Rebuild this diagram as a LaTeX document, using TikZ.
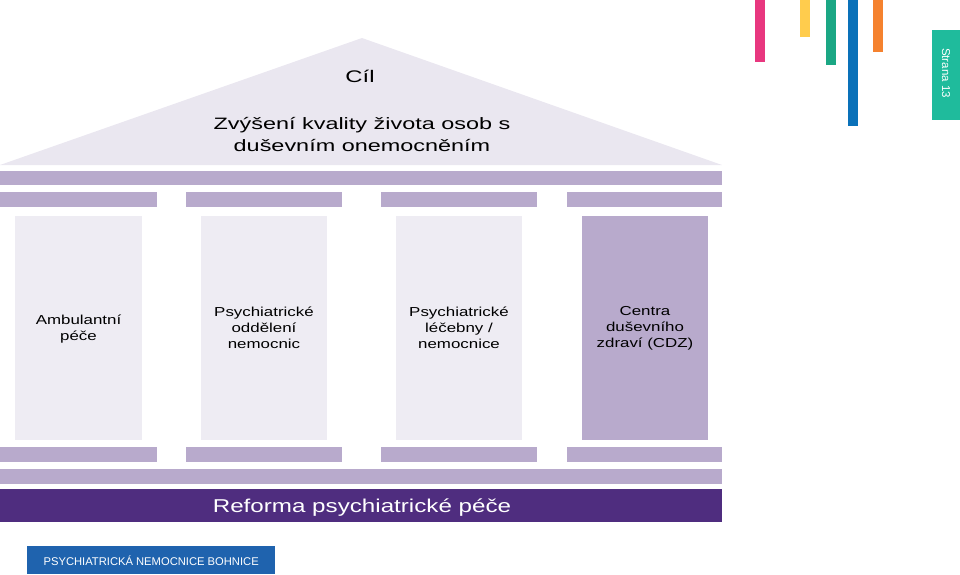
\documentclass[tikz,border=0pt]{standalone}
\usepackage{fontspec}
\setmainfont{Liberation Sans}
\newfontfamily\wide{Liberation Sans}[FakeStretch=1.3]
\newfontfamily\wider{Liberation Sans}[FakeStretch=1.42]
\definecolor{roof}{HTML}{EAE7F0}
\definecolor{colpale}{HTML}{EEECF3}
\definecolor{lav}{HTML}{B8AACC}
\definecolor{deep}{HTML}{4F2D7F}
\definecolor{bhblue}{HTML}{1F63AE}
\definecolor{tabgreen}{HTML}{1FBB9C}
\definecolor{bpink}{HTML}{E8377F}
\definecolor{byellow}{HTML}{FFCC4D}
\definecolor{bgreen}{HTML}{1BA784}
\definecolor{bblue}{HTML}{0A71B9}
\definecolor{borange}{HTML}{F5822F}
\begin{document}
\begin{tikzpicture}[x=1pt,y=-1pt,
  beam/.style={fill=lav,draw=none},
  coltext/.style={align=center,font=\wide\fontsize{13}{16}\selectfont,text=black},
  bar/.style={draw=none}]
\useasboundingbox (0,0) rectangle (960,574);
% roof
\fill[roof] (0,165) -- (362,38) -- (722,165) -- cycle;
\node[font=\wider\fontsize{16.8}{22}\selectfont] (goal) at (360,76) {Cíl};
\node[font=\wider\fontsize{16.5}{22}\selectfont,align=center] (goaltext) at (362,134) {Zvýšení kvality života osob s\\duševním onemocněním};
% top beam
\fill[beam] (0,171) rectangle (722,185);
% capitals and bases
\foreach \a/\b in {0/157,186/342,381/537,567/722}{
  \fill[beam] (\a,192) rectangle (\b,207);
  \fill[beam] (\a,447) rectangle (\b,462);
}
% columns
\fill[colpale] (15,216) rectangle (142,440);
\fill[colpale] (201,216) rectangle (327,440);
\fill[colpale] (396,216) rectangle (522,440);
\fill[lav] (582,216) rectangle (708,440);
\node[coltext] (c1) at (78.5,329) {Ambulantní\\péče};
\node[coltext] (c2) at (264,328) {Psychiatrické\\oddělení\\nemocnic};
\node[coltext] (c3) at (459,328) {Psychiatrické\\léčebny /\\nemocnice};
\node[coltext] (c4) at (645,328) {Centra\\duševního\\zdraví (CDZ)};
% bottom beam
\fill[beam] (0,469) rectangle (722,484);
\fill[deep] (0,489) rectangle (722,522);
\node[font=\wide\fontsize{18.6}{22}\selectfont,text=white] (reform) at (362,508) {Reforma psychiatrické péče};
% footer label
\node[fill=bhblue,text=white,minimum width=248,minimum height=28,inner sep=0pt,anchor=north west,font=\fontsize{11.2}{13}\selectfont] (footer) at (27,546) {PSYCHIATRICKÁ NEMOCNICE BOHNICE};
% decorative bars
\fill[bpink] (755,0) rectangle (765,62);
\fill[byellow] (800,0) rectangle (810,37);
\fill[bgreen] (826,0) rectangle (836,65);
\fill[bblue] (848,0) rectangle (858,126);
\fill[borange] (873,0) rectangle (883,52);
% page tab
\fill[tabgreen] (932,30) rectangle (960,120);
\node[rotate=-90,text=white,font=\fontsize{11.5}{13}\selectfont] (tab) at (946,73) {Strana 13};
\end{tikzpicture}
\end{document}
